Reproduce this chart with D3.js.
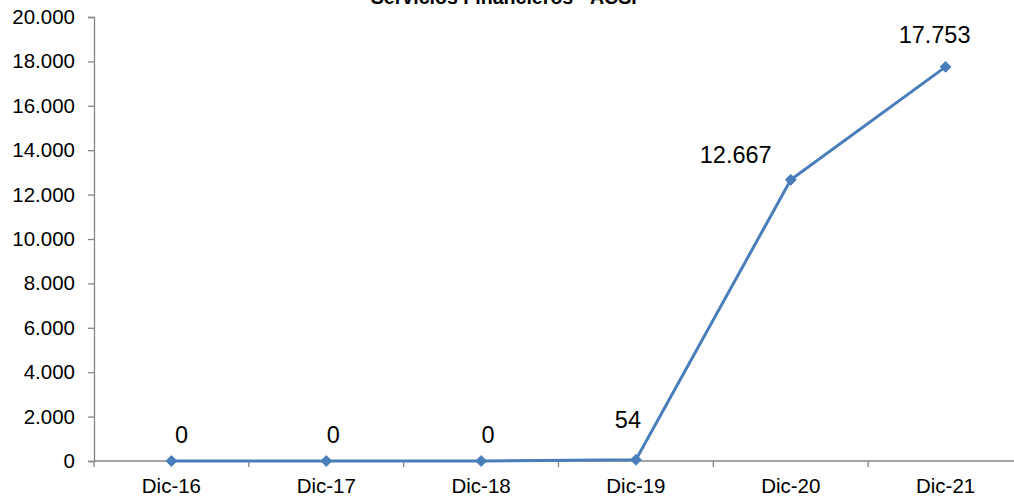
<!DOCTYPE html>
<html>
<head>
<meta charset="utf-8">
<script src="https://cdn.jsdelivr.net/npm/d3@7"></script>
<style>
  html, body { margin: 0; padding: 0; background: #fff; }
  svg { display: block; font-family: "Liberation Sans", Arial, sans-serif; }
</style>
</head>
<body>
<svg id="chart" width="1014" height="500"></svg>
<script>
// Periods and values of the series
const categories = ["Dic-16", "Dic-17", "Dic-18", "Dic-19", "Dic-20", "Dic-21"];
const values = [0, 0, 0, 54, 12667, 17753];
const yTicks = [0, 2000, 4000, 6000, 8000, 10000, 12000, 14000, 16000, 18000, 20000];
const title = "Servicios Financieros - ACSF";

// Offsets of the value labels from their points (layout only)
const labelDx = [10, 7, 7, -8, -55, -11];
const labelDy = [-18, -18, -18, -32, -17, -24];

const svg = d3.select("#chart");
const plotLeft = 94, plotTop = 17, plotBottom = 461, plotRight = 1023;

const fmt = v => d3.format(",")(v).replace(/,/g, ".");

const x = d3.scaleBand().domain(categories).range([plotLeft, plotRight]).padding(0);
const y = d3.scaleLinear().domain([0, 20000]).range([plotBottom, plotTop]);

const axisColor = "#868686";

// Y axis
const yAxis = svg.append("g")
  .attr("transform", `translate(${plotLeft},0)`)
  .call(d3.axisLeft(y).tickValues(yTicks).tickFormat(fmt).tickSize(6).tickPadding(13));
yAxis.select(".domain").attr("stroke", axisColor).attr("stroke-width", 1.3);
yAxis.selectAll(".tick line").attr("stroke", axisColor).attr("stroke-width", 1.3);
yAxis.selectAll(".tick text").attr("fill", "#000").attr("font-size", 20.5)
  .attr("font-family", "Liberation Sans, Arial, sans-serif");

// X axis with ticks at the category boundaries
const boundaries = d3.range(categories.length + 1).map(i => plotLeft + i * x.bandwidth());
const xg = svg.append("g");
xg.append("line")
  .attr("x1", plotLeft).attr("x2", plotRight)
  .attr("y1", plotBottom).attr("y2", plotBottom)
  .attr("stroke", axisColor).attr("stroke-width", 1.3);
xg.selectAll("line.tk").data(boundaries).join("line")
  .attr("class", "tk")
  .attr("x1", d => d).attr("x2", d => d)
  .attr("y1", plotBottom).attr("y2", plotBottom + 6)
  .attr("stroke", axisColor).attr("stroke-width", 1.3);
xg.selectAll("text").data(categories).join("text")
  .attr("x", d => x(d) + x.bandwidth() / 2)
  .attr("y", plotBottom + 32)
  .attr("text-anchor", "middle")
  .attr("font-size", 20.5)
  .attr("fill", "#000")
  .text(d => d);

// Series line
const pts = categories.map((c, i) => ({ c, v: values[i], i }));
const line = d3.line()
  .x(d => x(d.c) + x.bandwidth() / 2)
  .y(d => y(d.v));

svg.append("path")
  .datum(pts)
  .attr("d", line)
  .attr("fill", "none")
  .attr("stroke", "#4a7ebb")
  .attr("stroke-width", 3)
  .attr("stroke-linejoin", "round");

// Diamond markers
svg.selectAll("path.mk").data(pts).join("path")
  .attr("class", "mk")
  .attr("d", d3.symbol().type(d3.symbolDiamond2).size(75))
  .attr("transform", d => `translate(${x(d.c) + x.bandwidth() / 2},${y(d.v)})`)
  .attr("fill", "#4a7ebb")
  .attr("stroke", "#4a7ebb")
  .attr("stroke-width", 1);

// Value labels
svg.selectAll("text.lbl").data(pts).join("text")
  .attr("class", "lbl")
  .attr("x", d => x(d.c) + x.bandwidth() / 2 + labelDx[d.i])
  .attr("y", d => y(d.v) + labelDy[d.i])
  .attr("text-anchor", "middle")
  .attr("font-size", 23.5)
  .attr("fill", "#000")
  .text(d => fmt(d.v));

// Title, partly above the visible area
svg.append("text")
  .attr("x", 507)
  .attr("y", 4)
  .attr("text-anchor", "middle")
  .attr("font-size", 19.6)
  .attr("font-weight", "bold")
  .attr("fill", "#000")
  .text(title);
</script>
</body>
</html>
